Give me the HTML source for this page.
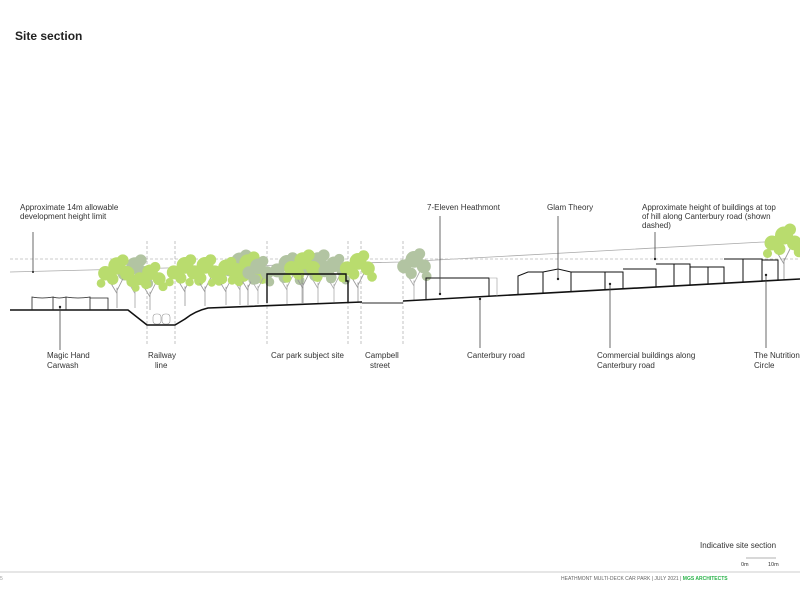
<!DOCTYPE html>
<html><head><meta charset="utf-8"><style>
body{margin:0;background:#fff;}
svg{display:block;font-family:"Liberation Sans",sans-serif;}
</style></head><body>
<svg width="800" height="600" viewBox="0 0 800 600" xmlns="http://www.w3.org/2000/svg">
<defs>
<g id="tg">
<path d="M0 0 L0 -14 M0 -10 L-6 -20 M0 -12 L5 -22 M-3 -16 L-8 -24" stroke="#999" stroke-width="0.6" fill="none"/>
<g fill="#b9dc6e"><circle cx="-8" cy="-24" r="5"/><circle cx="0" cy="-29" r="6"/><circle cx="7" cy="-24" r="5"/><circle cx="-3" cy="-20" r="4"/><circle cx="4" cy="-33" r="4"/><circle cx="10" cy="-18" r="3.5"/><circle cx="-11" cy="-17" r="3"/></g>
</g>
<g id="tr">
<path d="M0 0 L0 -14 M0 -10 L-6 -20 M0 -12 L5 -22" stroke="#aaa" stroke-width="0.6" fill="none"/>
<g fill="#b2c4a2"><circle cx="-7" cy="-24" r="5"/><circle cx="0" cy="-29" r="6"/><circle cx="7" cy="-24" r="5"/><circle cx="-2" cy="-19" r="4"/><circle cx="4" cy="-33" r="4"/><circle cx="9" cy="-17" r="3.5"/></g>
</g>
</defs>
<text x="15" y="40" font-size="12" font-weight="bold" fill="#222">Site section</text>

<polyline points="10,272 400,262 800,240" stroke="#aaa" stroke-width="0.8" fill="none"/>
<line x1="10" y1="259" x2="800" y2="259" stroke="#bbb" stroke-width="0.7" stroke-dasharray="3,2"/>

<g stroke="#aaa" stroke-width="0.7" stroke-dasharray="3,2">
<line x1="147" y1="241" x2="147" y2="345"/><line x1="175" y1="241" x2="175" y2="345"/>
<line x1="267" y1="241" x2="267" y2="345"/><line x1="348" y1="241" x2="348" y2="345"/>
<line x1="361" y1="241" x2="361" y2="345"/><line x1="403" y1="241" x2="403" y2="345"/>
</g>

<!-- trees -->
<g>
<use href="#tr" transform="translate(135,308) scale(1.45)"/>
<use href="#tg" transform="translate(117,308) scale(1.45)"/>
<use href="#tg" transform="translate(150,310) scale(1.3)"/>
<use href="#tr" transform="translate(240,305) scale(1.5)"/>
<use href="#tg" transform="translate(185,306) scale(1.4)"/>
<use href="#tg" transform="translate(205,306) scale(1.4)"/>
<use href="#tg" transform="translate(226,305) scale(1.3)"/>
<use href="#tg" transform="translate(248,305) scale(1.45)"/>
<use href="#tr" transform="translate(258,304) scale(1.3)"/>
<use href="#tr" transform="translate(287,304) scale(1.4)"/>
<use href="#tr" transform="translate(318,303) scale(1.45)"/>
<use href="#tg" transform="translate(303,303) scale(1.45)"/>
<use href="#tr" transform="translate(334,302) scale(1.3)"/>
<use href="#tg" transform="translate(358,302) scale(1.4)"/>
<use href="#tr" transform="translate(414,300) scale(1.4)"/>
<use href="#tg" transform="translate(784,279) scale(1.5)"/>
</g>

<g stroke="#999" stroke-width="0.6" fill="#fff"><rect x="153" y="314" width="8" height="10" rx="3"/><rect x="162" y="314" width="8" height="10" rx="3"/></g>

<path d="M10 310 L128 310 L147 325 L175 325 L185 319 Q195 311 208 308 L362 302" stroke="#111" stroke-width="1.6" fill="none"/>
<path d="M362 303 L403 303" stroke="#555" stroke-width="1.2" fill="none"/>
<path d="M403 301 L800 279" stroke="#111" stroke-width="1.6" fill="none"/>

<g stroke="#222" stroke-width="0.8" fill="none">
<path d="M32 310 V297 Q42 299 53 297 V310 M53 297 Q59 299 66 297 V310 M66 297 Q78 299 90 297 V310 M90 298 H108 V310"/>
</g>
<path d="M267 303 V274 H346 V281 H348 V302" stroke="#111" stroke-width="1.4" fill="none"/>
<line x1="302" y1="274" x2="302" y2="303" stroke="#777" stroke-width="0.5"/>
<path d="M426 299.5 V278 H489 V296" stroke="#111" stroke-width="1" fill="none"/>
<path d="M489 278 H497 V296" stroke="#999" stroke-width="0.6" fill="none"/>
<g stroke="#111" stroke-width="1" fill="none">
<path d="M518 294.6 V276 L528 272 H543 V293.2 M543 272 L558 269 L571 272 V291.7 M571 272 H605 V289.8 M605 272 H623 V288.8 M623 269 H656 V287 M656 264 H674 V286 M674 264 H690 V285.1 M690 267 H708 V284.1 M708 267 H724 V283.2 M724 259 H743 V282.2 M743 259 H762 V281.1 M762 260 H778 V280.2"/>
</g>

<g stroke="#444" stroke-width="0.8">
<line x1="33" y1="232" x2="33" y2="272"/>
<line x1="60" y1="307" x2="60" y2="350"/>
<line x1="440" y1="216" x2="440" y2="294"/>
<line x1="558" y1="216" x2="558" y2="279"/>
<line x1="655" y1="232" x2="655" y2="259"/>
<line x1="480" y1="299" x2="480" y2="348"/>
<line x1="610" y1="284" x2="610" y2="348"/>
<line x1="766" y1="275" x2="766" y2="348"/>
</g>
<g fill="#222"><circle cx="33" cy="272" r="1"/><circle cx="60" cy="307" r="1.2"/><circle cx="440" cy="294" r="1.2"/><circle cx="558" cy="279" r="1.2"/><circle cx="655" cy="259" r="1.2"/><circle cx="480" cy="299" r="1.2"/><circle cx="610" cy="284" r="1.2"/><circle cx="766" cy="275" r="1.2"/></g>

<g font-size="8" fill="#333">
<text x="20" y="210">Approximate 14m allowable</text>
<text x="20" y="219">development height limit</text>
<text x="47" y="358">Magic Hand</text><text x="47" y="368">Carwash</text>
<text x="148" y="358">Railway</text><text x="155" y="368">line</text>
<text x="271" y="358">Car park subject site</text>
<text x="365" y="358">Campbell</text><text x="370" y="368">street</text>
<text x="427" y="210">7-Eleven Heathmont</text>
<text x="547" y="210">Glam Theory</text>
<text x="642" y="210">Approximate height of buildings at top</text>
<text x="642" y="219">of hill along Canterbury road (shown</text>
<text x="642" y="228">dashed)</text>
<text x="467" y="358">Canterbury road</text>
<text x="597" y="358">Commercial buildings along</text>
<text x="597" y="368">Canterbury road</text>
<text x="754" y="358">The Nutrition</text><text x="754" y="368">Circle</text>
<text x="700" y="548">Indicative site section</text>
</g>
<line x1="746" y1="558" x2="776" y2="558" stroke="#999" stroke-width="0.8"/>
<text x="741" y="566" font-size="5.5" fill="#333">0m</text><text x="768" y="566" font-size="5.5" fill="#333">10m</text>
<line x1="0" y1="572" x2="800" y2="572" stroke="#bbb" stroke-width="0.8"/>
<text x="561" y="580" font-size="5" fill="#666">HEATHMONT MULTI-DECK CAR PARK   |   JULY 2021   |   <tspan fill="#2bb34a" font-weight="bold">MGS ARCHITECTS</tspan></text>
<text x="0" y="580" font-size="5" fill="#999">5</text>
</svg>
</body></html>
